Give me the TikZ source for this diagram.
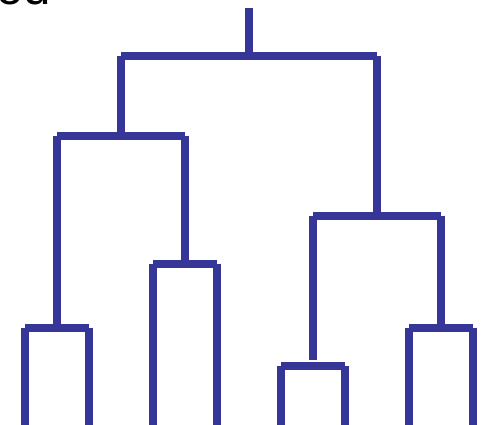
\documentclass[tikz,border=0pt]{standalone}
\usepackage{fontspec}
\setmainfont{Liberation Sans}
\usepackage{tikz}
\definecolor{dendro}{RGB}{54,54,152}

\begin{document}
\begin{tikzpicture}[x=0.02cm,y=-0.02cm,
  link/.style={draw=dendro,line width=4.5pt,line cap=butt},
  heading/.style={anchor=base west,inner sep=0pt,font=\fontsize{28}{30}\selectfont}]
\useasboundingbox (0,0) rectangle (487,424);

% --- clipped heading ---------------------------------------------------
\node[heading] (head) at (-4,4) {od};

% --- leaves ------------------------------------------------------------
\coordinate (l1) at (25,432);
\coordinate (l2) at (89,432);
\coordinate (l3) at (153,432);
\coordinate (l4) at (217,432);
\coordinate (l5) at (281,432);
\coordinate (l6) at (345,432);
\coordinate (l7) at (409,432);
\coordinate (l8) at (473,432);

% --- merge points ------------------------------------------------------
\coordinate (m12) at (57,328);
\coordinate (m34) at (185,264);
\coordinate (m56) at (313,366);
\coordinate (m78) at (441,328);
\coordinate (mA) at (121,136);
\coordinate (mB) at (377,216);
\coordinate (root) at (249,56);
\coordinate (top) at (249,8);
\coordinate (gap) at (313,360);

% --- lowest merges -----------------------------------------------------
\draw[link] (l1 |- m12) -- (l2 |- m12);
\draw[link] (l1 |- m12) -- (l1);
\draw[link] (l2 |- m12) -- (l2);
\draw[link] (l3 |- m34) -- (l4 |- m34);
\draw[link] (l3 |- m34) -- (l3);
\draw[link] (l4 |- m34) -- (l4);
\draw[link] (l5 |- m56) -- (l6 |- m56);
\draw[link] (l5 |- m56) -- (l5);
\draw[link] (l6 |- m56) -- (l6);
\draw[link] (l7 |- m78) -- (l8 |- m78);
\draw[link] (l7 |- m78) -- (l7);
\draw[link] (l8 |- m78) -- (l8);

% --- middle merges -----------------------------------------------------
\draw[link] (m12 |- mA) -- (m34 |- mA);
\draw[link] (m12 |- mA) -- (m12);
\draw[link] (m34 |- mA) -- (m34);
\draw[link] (gap |- mB) -- (m78 |- mB);
\draw[link] (gap |- mB) -- (gap);
\draw[link] (m78 |- mB) -- (m78);

% --- root --------------------------------------------------------------
\draw[link] (mA |- root) -- (mB |- root);
\draw[link] (mA |- root) -- (mA);
\draw[link] (mB |- root) -- (mB);
\draw[link] (root) -- (top);
\end{tikzpicture}
\end{document}
